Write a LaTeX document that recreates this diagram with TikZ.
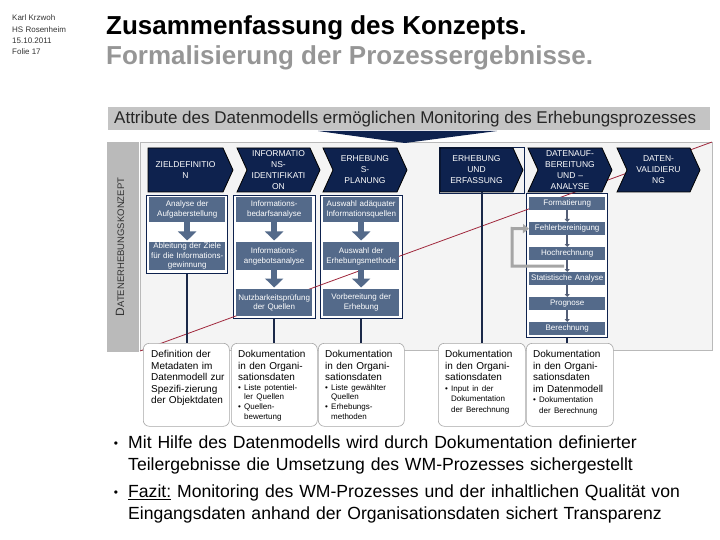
\documentclass[tikz,border=0pt]{standalone}
\usepackage{fontspec}
\setmainfont{Liberation Sans}
\usetikzlibrary{arrows.meta}
\definecolor{navyc}{RGB}{14,34,78}
\definecolor{steel}{RGB}{84,106,138}
\definecolor{bargray}{RGB}{196,196,196}
\definecolor{stripgray}{RGB}{186,186,186}
\definecolor{panelfill}{RGB}{244,244,244}
\definecolor{redline}{RGB}{160,40,60}
\definecolor{connc}{RGB}{26,40,72}
\definecolor{titlegray}{RGB}{150,150,150}
\definecolor{loopgray}{RGB}{165,165,165}

\tikzset{
 chevtext/.style={text=white, font=\fontsize{8.5}{11}\selectfont, align=center, inner sep=0pt, minimum height=44pt, text width=72pt},
 chevshape/.style={fill=navyc, draw=black, line width=0.8pt},
 cont/.style={draw=navyc, line width=0.7pt, fill=white, inner sep=0pt, anchor=north west},
 pbox/.style={fill=steel, text=white, font=\fontsize{8}{9.6}\selectfont, align=center, inner sep=0pt, minimum width=76pt, text width=76pt, anchor=north west},
 sbox/.style={fill=steel, text=white, font=\fontsize{8}{9}\selectfont, align=center, inner sep=0pt, minimum width=76pt, text width=76pt, minimum height=13pt, anchor=north west},
 bigarrow/.style={draw=steel, line width=6pt, -{Triangle[width=18pt,length=9pt]}, shorten >=1.5pt},
 smallarrow/.style={draw=connc!75, line width=2pt, -{Triangle[width=5pt,length=3pt]}},
 conn/.style={draw=connc, line width=1.8pt},
 loop/.style={draw=loopgray, line width=3pt, -{Triangle[width=9pt,length=6pt]}},
 dbox/.style={draw=gray!70, line width=0.6pt, rounded corners=6pt, fill=white, inner sep=0pt, minimum height=83pt, anchor=north west},
 dtext/.style={font=\fontsize{10}{11.6}\selectfont, align=left, inner sep=0pt, text width=84pt, anchor=north west},
 bultext/.style={font=\fontsize{17.6}{21.5}\selectfont, align=left, inner sep=0pt, text width=590pt, anchor=north west},
}
\newcommand{\chevplain}[4]{%
 \path[chevshape] (#1,148) -- (#2-10,148) -- (#2,170) -- (#2-10,192) -- (#1,192) -- cycle;
 \node[chevtext] (#3) at ({(#1+#2-10)/2},170) {#4};}
\newcommand{\chevnotch}[4]{%
 \path[chevshape] (#1,148) -- (#2-10,148) -- (#2,170) -- (#2-10,192) -- (#1,192) -- (#1+10,170) -- cycle;
 \node[chevtext] (#3) at ({(#1+#2)/2},170) {#4};}
\newcommand{\smallbul}{\makebox[6pt][l]{\textbullet}}

\begin{document}
\begin{tikzpicture}[x=1pt,y=-1pt]
\useasboundingbox (0,0) rectangle (720,540);

% header
\node[anchor=north west, inner sep=0pt, align=left, font=\fontsize{8}{11.2}\selectfont, text=black!80] (meta) at (12,15)
 {Karl Krzwoh\\HS Rosenheim\\15.10.2011\\Folie 17};
\node[anchor=base west, inner sep=0pt, font=\bfseries\fontsize{26}{30}\selectfont] (title) at (106,35) {Zusammenfassung des Konzepts.};
\node[anchor=base west, inner sep=0pt, font=\bfseries\fontsize{26}{30}\selectfont, text=titlegray] (subtitle) at (106,65) {Formalisierung der Prozessergebnisse.};

% heading bar
\node[fill=bargray, minimum width=602pt, minimum height=23pt, inner sep=0pt, anchor=north west] (bar) at (108,107) {};
\node[anchor=base west, inner sep=0pt, font=\fontsize{17}{20}\selectfont, text=black!85] (bartext) at (114,124)
 {Attribute des Datenmodells ermöglichen Monitoring des Erhebungsprozesses};

% strip and panel
\fill[stripgray] (107,142) rectangle (139,352);
\path[fill=panelfill, draw=gray!55, line width=0.6pt] (140,142) rectangle (712,350);
\node[rotate=90, inner sep=0pt, text=black!80] (striplabel) at (120,247)
 {\fontsize{12}{12}\selectfont D\fontsize{9.5}{10}\selectfont ATENERHEBUNGSKONZEPT};
\fill[navyc] (318,131) -- (497,131) -- (405,143) -- cycle;

% containers
\node[cont, minimum width=81pt, minimum height=78pt] (k1) at (146,195) {};
\node[cont, minimum width=82pt, minimum height=123pt] (k2) at (233,195) {};
\node[cont, minimum width=82pt, minimum height=123pt] (k3) at (320,195) {};
\node[cont, minimum width=81pt, minimum height=144pt] (k5) at (526,193) {};

% red line
\draw[redline, line width=0.8pt] (140,351) -- (712,142);

% chevrons
\draw[navyc, line width=0.7pt] (439,147) rectangle (524,193);
\chevplain{148}{233}{c1}{ZIELDEFINITIO\\N}
\chevnotch{237}{320}{c2}{INFORMATIO\\NS-\\IDENTIFIKATI\\ON}
\chevnotch{323}{407}{c3}{ERHEBUNG\\S-\\PLANUNG}
\chevplain{440}{523}{c4}{ERHEBUNG\\UND\\ERFASSUNG}
\chevnotch{528}{612}{c5}{DATENAUF-\\BEREITUNG\\UND –\\ANALYSE}
\chevnotch{617}{700}{c6}{DATEN-\\VALIDIERU\\NG}

% process boxes
\node[pbox, minimum height=25pt] (p11) at (149,197) {Analyse der\\Aufgaberstellung};
\node[pbox, minimum height=28pt] (p12) at (149,242) {Ableitung der Ziele\\für die Informations-\\gewinnung};
\node[pbox, minimum height=25pt] (p21) at (236,197) {Informations-\\bedarfsanalyse};
\node[pbox, minimum height=28pt] (p22) at (236,242) {Informations-\\angebotsanalyse};
\node[pbox, minimum height=27pt] (p23) at (236,289) {Nutzbarkeitsprüfung\\der Quellen};
\node[pbox, minimum height=25pt] (p31) at (323,197) {Auswahl adäquater\\Informationsquellen};
\node[pbox, minimum height=28pt] (p32) at (323,242) {Auswahl der\\Erhebungsmethode};
\node[pbox, minimum height=27pt] (p33) at (323,289) {Vorbereitung der\\Erhebung};
\draw[bigarrow] (p11.south) -- (p12.north);
\draw[bigarrow] (p21.south) -- (p22.north);
\draw[bigarrow] (p22.south) -- (p23.north);
\draw[bigarrow] (p31.south) -- (p32.north);
\draw[bigarrow] (p32.south) -- (p33.north);

\node[sbox] (s1) at (529,197) {Formatierung};
\node[sbox] (s2) at (529,222) {Fehlerbereinigung};
\node[sbox] (s3) at (529,247) {Hochrechnung};
\node[sbox] (s4) at (529,272) {Statistische Analyse};
\node[sbox] (s5) at (529,297) {Prognose};
\node[sbox] (s6) at (529,322) {Berechnung};
\draw[smallarrow] (s1.south) -- (s2.north);
\draw[smallarrow] (s2.south) -- (s3.north);
\draw[smallarrow] (s3.south) -- (s4.north);
\draw[smallarrow] (s4.south) -- (s5.north);
\draw[smallarrow] (s5.south) -- (s6.north);
\coordinate (loopstart) at (564,266);
\draw[loop] (loopstart) -- (512,266) -- (512,228.5) -- (s2.west);

% documentation boxes
\node[dbox, minimum width=86pt] (d1) at (143,343) {};
\node[dbox, minimum width=86pt] (d2) at (231,343) {};
\node[dbox, minimum width=86pt] (d3) at (318,343) {};
\node[dbox, minimum width=87pt] (d4) at (438,343) {};
\node[dbox, minimum width=87pt] (d5) at (526,343) {};

\draw[conn] (k1.south) -- (k1.south |- d1.north);
\draw[conn] (k2.south) -- (k2.south |- d2.north);
\draw[conn] (k3.south) -- (k3.south |- d3.north);
\draw[conn] (d4.north) -- (d4.north |- c4.south);
\draw[conn] (k5.south) -- (k5.south |- d5.north);

\node[dtext] (d1t) at (151,350) {Definition der\\Metadaten im\\Datenmodell zur\\Spezifi-zierung\\der Objektdaten};
\node[dtext] (d2t) at (238,350) {{Dokumentation\\in den Organi-\\sationsdaten\par}
 {\fontsize{8}{9.4}\selectfont \smallbul Liste potentiel-\\\hspace*{6pt}ler Quellen\par\vspace{1pt}
 \smallbul Quellen-\\\hspace*{6pt}bewertung\par}};
\node[dtext] (d3t) at (325,350) {{Dokumentation\\in den Organi-\\sationsdaten\par}
 {\fontsize{8}{9.4}\selectfont \smallbul Liste gewählter\\\hspace*{6pt}Quellen\par\vspace{1pt}
 \smallbul Erhebungs-\\\hspace*{6pt}methoden\par}};
\node[dtext] (d4t) at (445,350) {{Dokumentation\\in den Organi-\\sationsdaten\par}
 {\fontsize{8}{10.5}\selectfont \smallbul Input in der\\\hspace*{6pt}Dokumentation\\\hspace*{6pt}der Berechnung\par}};
\node[dtext] (d5t) at (533,350) {{Dokumentation\\in den Organi-\\sationsdaten\\im Datenmodell\par}
 {\fontsize{8}{10.5}\selectfont \smallbul Dokumentation\\\hspace*{6pt}der Berechnung\par}};

% bottom bullets
\node[anchor=base, inner sep=0pt, font=\fontsize{12}{12}\selectfont] (b1) at (116,447) {\textbullet};
\node[bultext] (b1t) at (128,436) {Mit Hilfe des Datenmodells wird durch Dokumentation definierter\\Teilergebnisse die Umsetzung des WM-Prozesses sichergestellt};
\node[anchor=base, inner sep=0pt, font=\fontsize{12}{12}\selectfont] (b2) at (116,496) {\textbullet};
\node[bultext] (b2t) at (128,485) {\underline{Fazit:} Monitoring des WM-Prozesses und der inhaltlichen Qualität von\\Eingangsdaten anhand der Organisationsdaten sichert Transparenz};
\end{tikzpicture}
\end{document}
